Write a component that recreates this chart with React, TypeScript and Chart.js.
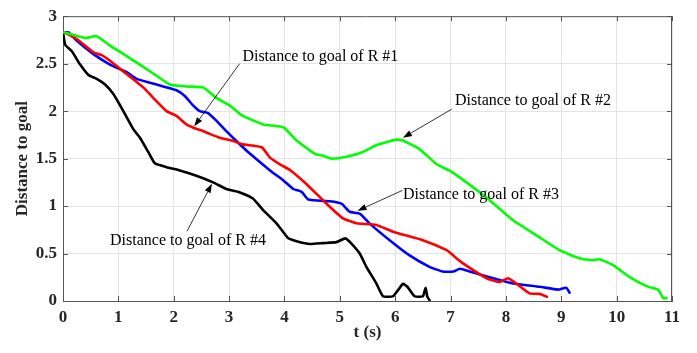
import React, { useEffect, useRef } from "react";
import { Chart, registerables } from "chart.js";
Chart.register(...registerables);

// R #1 (red)
const tR1 = [0.02, 0.25, 0.55, 0.7, 0.85, 1.15, 1.45, 1.63, 1.87, 2.05, 2.23, 2.38, 2.53, 2.65, 2.83, 3.05, 3.25, 3.59, 3.74, 3.92, 4.1, 4.4, 4.76, 5.06, 5.3, 5.66, 5.96, 6.5, 6.93, 7.05, 7.17, 7.41, 7.65, 7.89, 8.04, 8.22, 8.43, 8.61, 8.74];
const dR1 = [2.83, 2.76, 2.62, 2.59, 2.53, 2.39, 2.25, 2.14, 2.0, 1.95, 1.86, 1.82, 1.79, 1.76, 1.72, 1.69, 1.65, 1.62, 1.51, 1.44, 1.38, 1.23, 1.025, 0.87, 0.82, 0.8, 0.73, 0.64, 0.535, 0.48, 0.42, 0.325, 0.24, 0.2, 0.24, 0.17, 0.08, 0.075, 0.045];

// R #2 (green)
const tR2 = [0.02, 0.4, 0.61, 0.85, 1.15, 1.57, 1.93, 2.23, 2.53, 2.77, 3.01, 3.25, 3.62, 3.98, 4.22, 4.55, 4.7, 4.85, 5.12, 5.42, 5.66, 6.02, 6.14, 6.44, 6.75, 6.99, 7.17, 7.65, 8.13, 8.61, 8.97, 9.33, 9.57, 9.69, 9.93, 10.23, 10.54, 10.75, 10.84, 10.9];
const dR2 = [2.83, 2.77, 2.79, 2.69, 2.58, 2.42, 2.28, 2.26, 2.25, 2.14, 2.06, 1.95, 1.86, 1.83, 1.69, 1.55, 1.53, 1.5, 1.52, 1.57, 1.64, 1.7, 1.69, 1.6, 1.44, 1.37, 1.3, 1.09, 0.85, 0.67, 0.535, 0.45, 0.43, 0.44, 0.38, 0.255, 0.157, 0.12, 0.03, 0.03];

// R #3 (blue)
const tR3 = [0, 0.1, 0.25, 0.55, 0.85, 1.15, 1.33, 1.57, 1.81, 2.05, 2.2, 2.35, 2.47, 2.62, 2.77, 2.95, 3.16, 3.38, 3.74, 3.98, 4.16, 4.31, 4.43, 4.82, 5.03, 5.18, 5.36, 5.54, 5.9, 6.26, 6.62, 6.86, 7.05, 7.17, 7.41, 7.77, 8.13, 8.61, 8.94, 9.09, 9.15];
const dR3 = [2.83, 2.83, 2.74, 2.6, 2.49, 2.41, 2.34, 2.3, 2.26, 2.22, 2.16, 2.06, 2.0, 1.98, 1.9, 1.79, 1.67, 1.55, 1.375, 1.27, 1.18, 1.15, 1.07, 1.05, 1.025, 0.94, 0.92, 0.815, 0.64, 0.48, 0.36, 0.31, 0.31, 0.34, 0.3, 0.24, 0.185, 0.15, 0.12, 0.14, 0.087];

// R #4 (black)
const tR4 = [0, 0.04, 0.16, 0.31, 0.46, 0.61, 0.76, 0.91, 1.09, 1.27, 1.39, 1.54, 1.66, 1.87, 2.11, 2.41, 2.71, 2.95, 3.16, 3.43, 3.62, 3.86, 4.07, 4.22, 4.46, 4.7, 4.94, 5.1, 5.21, 5.36, 5.48, 5.66, 5.78, 5.96, 6.14, 6.22, 6.35, 6.5, 6.55, 6.58, 6.62];
const dR4 = [2.83, 2.7, 2.63, 2.49, 2.38, 2.34, 2.28, 2.18, 2.0, 1.81, 1.72, 1.57, 1.45, 1.41, 1.375, 1.32, 1.25, 1.18, 1.15, 1.08, 0.955, 0.815, 0.66, 0.63, 0.6, 0.61, 0.62, 0.66, 0.605, 0.5, 0.36, 0.185, 0.05, 0.05, 0.18, 0.15, 0.05, 0.05, 0.14, 0.045, 0.01];

// Annotations (data units): text left/center, arrow tail, arrow head
const annTexts = ["Distance to goal of R #1", "Distance to goal of R #2", "Distance to goal of R #3", "Distance to goal of R #4"];
const annTextX = [3.24, 7.08, 6.14, 0.85];
const annTextY = [2.57, 2.11, 1.12, 0.63];
const annTailX = [3.19, 7.02, 6.13, 2.24];
const annTailY = [2.5, 2.02, 1.165, 0.735];
const annHeadX = [2.37, 6.14, 5.32, 2.69];
const annHeadY = [1.84, 1.72, 0.95, 1.235];

const xTicks = [0, 1, 2, 3, 4, 5, 6, 7, 8, 9, 10, 11];
const yTicks = [0, 0.5, 1, 1.5, 2, 2.5, 3];

const zip = (t: number[], d: number[]) => t.map((x, i) => ({ x, y: d[i] }));

const serif = '"Liberation Serif", "Times New Roman", serif';

const boxPlugin = {
  id: "boxAndAnnotations",
  afterDatasetsDraw(chart: any) {
    const { ctx, chartArea: a, scales } = chart;
    const xs = scales.x, ys = scales.y;
    ctx.save();
    ctx.strokeStyle = "#555";
    ctx.lineWidth = 1;
    ctx.beginPath();
    ctx.moveTo(a.left, a.top + 0.5);
    ctx.lineTo(a.right, a.top + 0.5);
    ctx.moveTo(a.right - 0.5, a.top);
    ctx.lineTo(a.right - 0.5, a.bottom);
    ctx.stroke();
    const tl = 5;
    ctx.beginPath();
    xTicks.forEach((v) => {
      const px = Math.round(xs.getPixelForValue(v)) + 0.5;
      ctx.moveTo(px, a.bottom);
      ctx.lineTo(px, a.bottom - tl);
      ctx.moveTo(px, a.top);
      ctx.lineTo(px, a.top + tl);
    });
    yTicks.forEach((v) => {
      const py = Math.round(ys.getPixelForValue(v)) + 0.5;
      ctx.moveTo(a.left, py);
      ctx.lineTo(a.left + tl, py);
      ctx.moveTo(a.right, py);
      ctx.lineTo(a.right - tl, py);
    });
    ctx.stroke();
    ctx.fillStyle = "#000";
    ctx.strokeStyle = "#000";
    ctx.font = `16px ${serif}`;
    ctx.textBaseline = "middle";
    ctx.textAlign = "left";
    annTexts.forEach((txt, i) => {
      ctx.fillText(txt, xs.getPixelForValue(annTextX[i]), ys.getPixelForValue(annTextY[i]));
      const x1 = xs.getPixelForValue(annTailX[i]);
      const y1 = ys.getPixelForValue(annTailY[i]);
      const x2 = xs.getPixelForValue(annHeadX[i]);
      const y2 = ys.getPixelForValue(annHeadY[i]);
      const ang = Math.atan2(y2 - y1, x2 - x1);
      const hl = 9, hw = 3.2;
      const bx = x2 - hl * Math.cos(ang), by = y2 - hl * Math.sin(ang);
      ctx.lineWidth = 0.8;
      ctx.beginPath();
      ctx.moveTo(x1, y1);
      ctx.lineTo(bx, by);
      ctx.stroke();
      ctx.beginPath();
      ctx.moveTo(x2, y2);
      ctx.lineTo(bx + hw * Math.sin(ang), by - hw * Math.cos(ang));
      ctx.lineTo(bx - hw * Math.sin(ang), by + hw * Math.cos(ang));
      ctx.closePath();
      ctx.fill();
    });
    ctx.restore();
  },
};

export default function App() {
  const ref = useRef<HTMLCanvasElement | null>(null);
  useEffect(() => {
    if (!ref.current) return;
    const mk = (t: number[], d: number[], color: string) => ({
      data: zip(t, d),
      borderColor: color,
      backgroundColor: color,
      borderWidth: 2.6,
      pointRadius: 0,
      showLine: true,
      tension: 0.15,
      borderJoinStyle: "round" as const,
      borderCapStyle: "round" as const,
    });
    const chart = new Chart(ref.current, {
      type: "scatter",
      data: {
        datasets: [
          mk(tR2, dR2, "#00ff00"),
          mk(tR1, dR1, "#ff0000"),
          mk(tR3, dR3, "#0000ff"),
          mk(tR4, dR4, "#000000"),
        ],
      },
      options: {
        responsive: false,
        animation: false,
        layout: { padding: { top: 15, right: 25, left: 0, bottom: 0 } },
        plugins: { legend: { display: false }, tooltip: { enabled: false } },
        scales: {
          x: {
            type: "linear",
            min: 0,
            max: 11,
            afterBuildTicks: (s: any) => {
              s.ticks = xTicks.map((v) => ({ value: v }));
            },
            afterFit: (s: any) => {
              s.height = 52;
            },
            ticks: {
              font: { family: serif, size: 17, weight: "bold" },
              color: "#262626",
              padding: 6,
              maxRotation: 0,
              callback: (v: any) => String(v),
            },
            grid: { color: "#e4e4e4", drawTicks: false, lineWidth: 1 },
            border: { color: "#555", width: 1 },
            title: {
              display: true,
              text: "t (s)",
              font: { family: serif, size: 17, weight: "bold" },
              color: "#262626",
              padding: { top: 0, bottom: 10 },
            },
          },
          y: {
            type: "linear",
            min: 0,
            max: 3,
            afterBuildTicks: (s: any) => {
              s.ticks = yTicks.map((v) => ({ value: v }));
            },
            afterFit: (s: any) => {
              s.width = 63;
            },
            ticks: {
              font: { family: serif, size: 17, weight: "bold" },
              color: "#262626",
              padding: 6,
              callback: (v: any) => String(v),
            },
            grid: { color: "#e4e4e4", drawTicks: false, lineWidth: 1 },
            border: { color: "#555", width: 1 },
            title: {
              display: true,
              text: "Distance to goal",
              font: { family: serif, size: 17, weight: "bold" },
              color: "#262626",
              padding: { top: 12, bottom: 0 },
            },
          },
        },
      },
      plugins: [boxPlugin],
    });
    return () => chart.destroy();
  }, []);
  return (
    <div style={{ position: "absolute", left: 0, top: 0, width: 697, height: 353, background: "#fff" }}>
      <canvas ref={ref} width={697} height={353} style={{ display: "block" }} />
    </div>
  );
}
